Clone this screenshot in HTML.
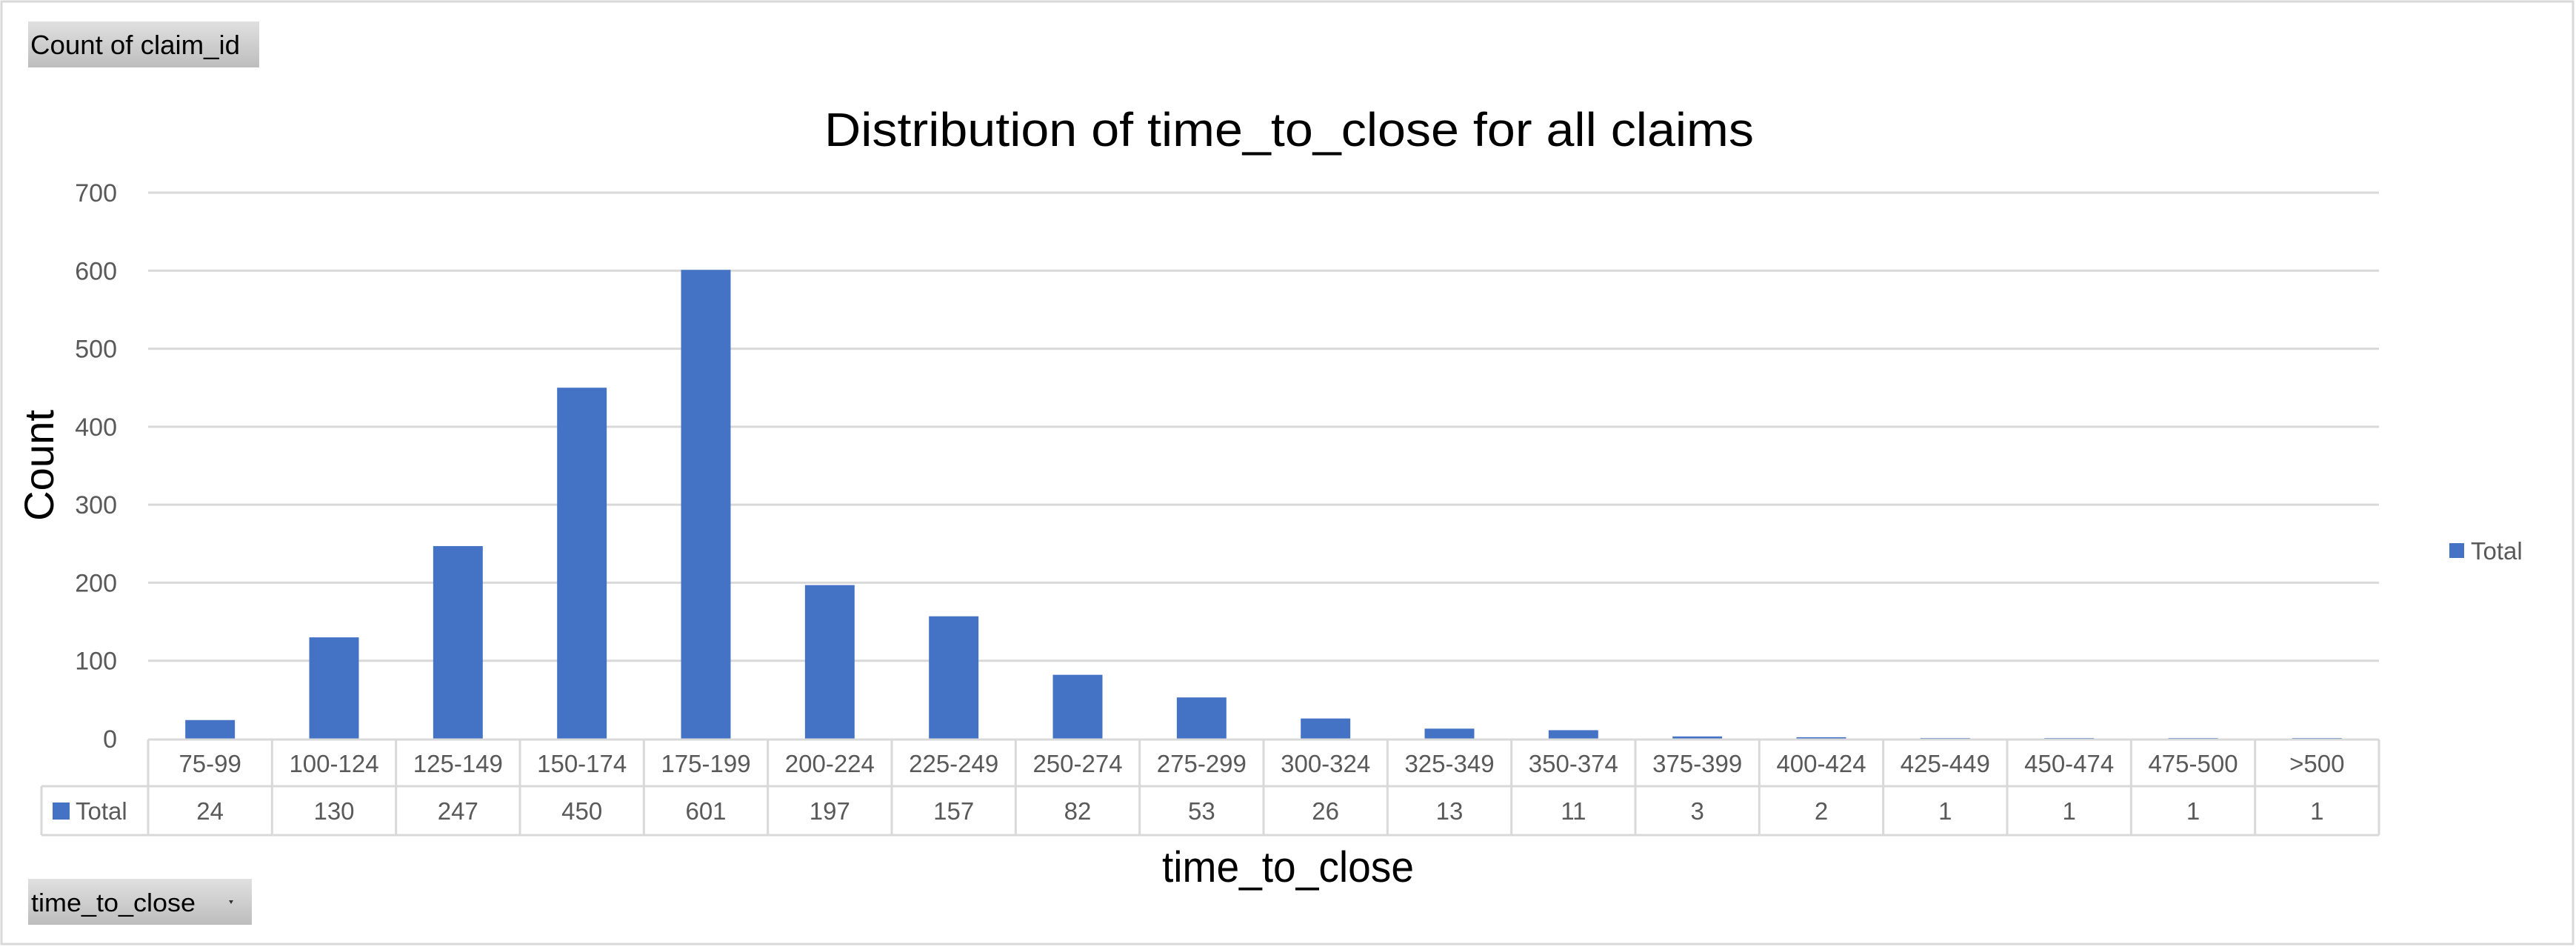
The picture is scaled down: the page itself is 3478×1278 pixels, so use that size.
<!DOCTYPE html>
<html><head><meta charset="utf-8"><style>
html,body{margin:0;padding:0;background:#fff;}
svg{display:block;font-family:"Liberation Sans",sans-serif;}
</style></head><body>
<svg id="chart" width="3478" height="1278" viewBox="0 0 3478 1278">
<defs><linearGradient id="btn" x1="0" y1="0" x2="0" y2="1"><stop offset="0" stop-color="#e0e0e0"/><stop offset="1" stop-color="#bdbdbd"/></linearGradient></defs>
<rect x="2" y="2" width="3472" height="1272" fill="#fff" stroke="#d9d9d9" stroke-width="3"/>
<g><rect x="38" y="29" width="312" height="62" fill="url(#btn)"/><text x="41" y="73" font-size="36" fill="#000" textLength="283" lengthAdjust="spacingAndGlyphs">Count of claim_id</text></g>
<text x="1113" y="197" font-size="64" fill="#000" textLength="1255" lengthAdjust="spacingAndGlyphs">Distribution of time_to_close for all claims</text>
<text transform="translate(72,628) rotate(-90)" text-anchor="middle" font-size="56" fill="#000" textLength="150" lengthAdjust="spacingAndGlyphs">Count</text>
<text x="1739" y="1190" text-anchor="middle" font-size="58" fill="#000" textLength="340" lengthAdjust="spacingAndGlyphs">time_to_close</text>
<g><rect x="38" y="1186" width="302" height="62" fill="url(#btn)"/><text x="42" y="1230" font-size="34" fill="#000" textLength="222" lengthAdjust="spacingAndGlyphs">time_to_close</text><path d="M309 1215 l6 0 l-3 5 z" fill="#333"/></g>
<g><rect x="3307" y="733" width="20" height="20" fill="#4472c4"/><text x="3336" y="755" font-size="33" fill="#595959">Total</text></g>
<g id="grid"></g><g id="bars"></g><g id="table"></g>
</svg>
<script>
const categories=["75-99","100-124","125-149","150-174","175-199","200-224","225-249","250-274","275-299","300-324","325-349","350-374","375-399","400-424","425-449","450-474","475-500",">500"];
const values=[24,130,247,450,601,197,157,82,53,26,13,11,3,2,1,1,1,1];
const yTicks=[0,100,200,300,400,500,600,700];
const NS="http://www.w3.org/2000/svg";
const X0=200,X1=3212,Y0=997,Y700=260;
const colW=(X1-X0)/categories.length;
const y=v=>Y0-(Y0-Y700)*v/700;
const xc=i=>X0+colW*(i+0.5);
function mk(tag,attrs,parent,txt){const e=document.createElementNS(NS,tag);for(const k in attrs)e.setAttribute(k,attrs[k]);if(txt!=null)e.textContent=txt;parent.appendChild(e);return e;}
const grid=document.getElementById('grid'),bars=document.getElementById('bars'),table=document.getElementById('table');
yTicks.forEach(t=>{
  if(t>0){const l=mk('line',{x1:X0,x2:X1,y1:y(t),y2:y(t),stroke:'#d9d9d9','stroke-width':3},grid);
  
  }
  const tx=mk('text',{x:158,y:y(t)+12,'text-anchor':'end','font-size':34,fill:'#595959'},grid,String(t));
  
  
});
const bw=colW*0.4;
values.forEach((v,i)=>{
  const r=mk('rect',{x:xc(i)-bw/2,y:y(v),width:bw,height:Y0-y(v),fill:'#4472c4'},bars);
  
  
});
const T0=998,T1=1061,T2=1127,LX=56;
const st={stroke:'#d9d9d9','stroke-width':3};
[[X0,T0,X1,T0],[LX,T1,X1,T1],[LX,T2,X1,T2],[LX,T1,LX,T2]].forEach(a=>mk('line',Object.assign({x1:a[0],y1:a[1],x2:a[2],y2:a[3]},st),table));
for(let i=0;i<=categories.length;i++){mk('line',Object.assign({x1:X0+colW*i,y1:T0,x2:X0+colW*i,y2:T2},st),table);}
const sw=mk('rect',{x:71,y:1083,width:23,height:23,fill:'#4472c4'},table);


const tl=mk('text',{x:102,y:1106,'font-size':33,fill:'#595959'},table,'Total');


categories.forEach((c,i)=>{
  const a=mk('text',{x:xc(i),y:1042,'text-anchor':'middle','font-size':33,fill:'#595959'},table,c);
  
  
  const b=mk('text',{x:xc(i),y:1106,'text-anchor':'middle','font-size':33,fill:'#595959'},table,String(values[i]));
  
  
});
</script>
</body></html>
